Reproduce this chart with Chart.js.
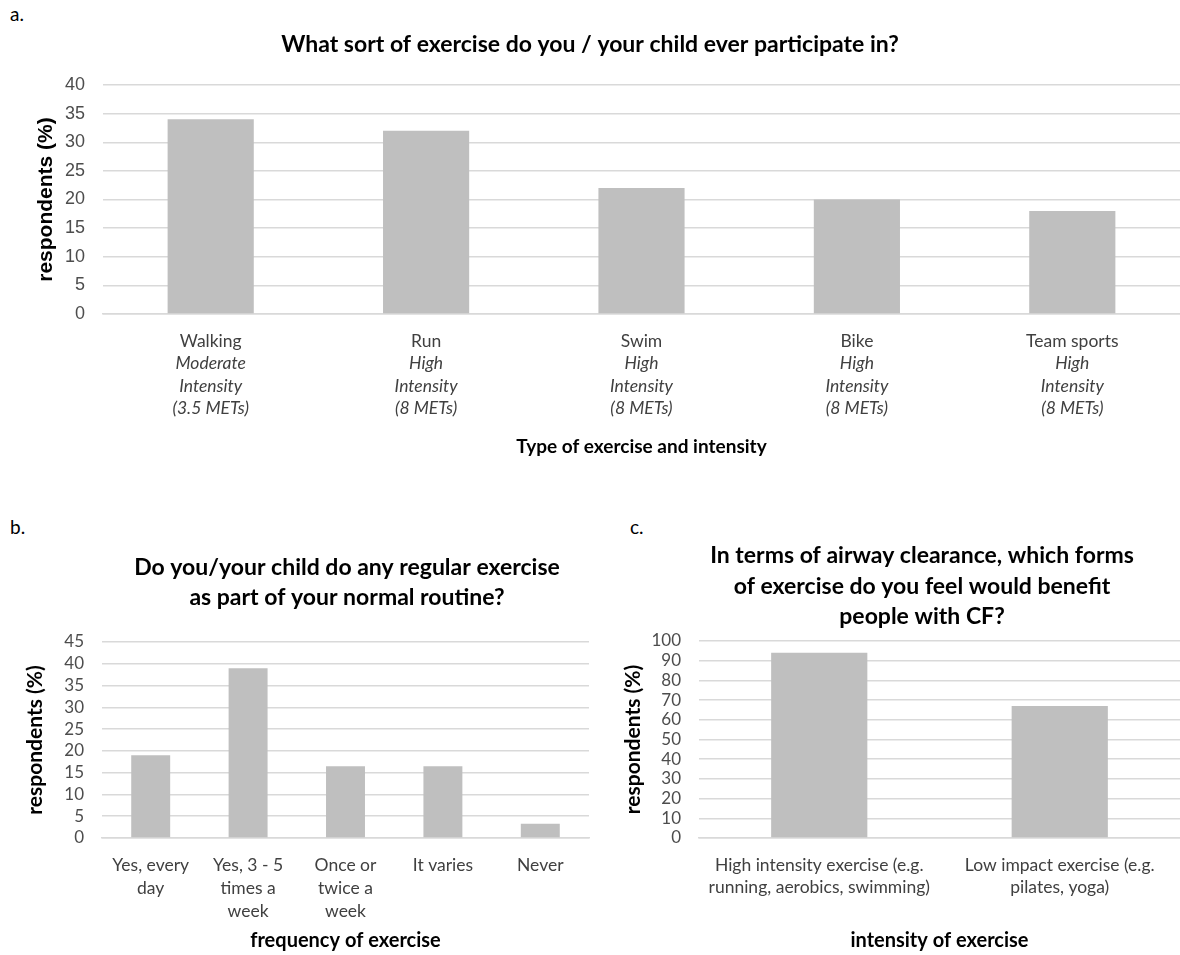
<!DOCTYPE html>
<html>
<head>
<meta charset="utf-8">
<script src="https://cdn.jsdelivr.net/npm/chart.js@4.4.1/dist/chart.umd.min.js"></script>
<style>
  body { margin: 0; background: #fff; width: 1180px; height: 955px; position: relative; overflow: hidden; }
  canvas { position: absolute; }
  .tag { position: absolute; font-family: Lato, sans-serif; font-size: 19px; color: #000; }
</style>
</head>
<body>
<div class="tag" style="left:10px;top:2px">a.</div>
<div class="tag" style="left:10px;top:515px">b.</div>
<div class="tag" style="left:630px;top:515px">c.</div>
<canvas id="chartA" width="1180" height="470" style="left:0;top:0"></canvas>
<canvas id="chartB" width="600" height="455" style="left:0;top:500px"></canvas>
<canvas id="chartC" width="580" height="455" style="left:600px;top:500px"></canvas>
<script>
// panel a
const aCategories = ['Walking', 'Run', 'Swim', 'Bike', 'Team sports'];
const aIntensity = [
  ['Moderate', 'Intensity', '(3.5 METs)'],
  ['High', 'Intensity', '(8 METs)'],
  ['High', 'Intensity', '(8 METs)'],
  ['High', 'Intensity', '(8 METs)'],
  ['High', 'Intensity', '(8 METs)']
];
const aValues = [34, 32, 22, 20, 18];
const aTicks = [0, 5, 10, 15, 20, 25, 30, 35, 40];

// panel b
const bCategories = [
  ['Yes, every', 'day'],
  ['Yes, 3 - 5', 'times a', 'week'],
  ['Once or', 'twice a', 'week'],
  ['It varies'],
  ['Never']
];
const bValues = [19, 39, 16.5, 16.5, 3.3];
const bTicks = [0, 5, 10, 15, 20, 25, 30, 35, 40, 45];

// panel c
const cCategories = [
  ['High intensity exercise (e.g.', 'running, aerobics, swimming)'],
  ['Low impact exercise (e.g.', 'pilates, yoga)']
];
const cValues = [94, 67];
const cTicks = [0, 10, 20, 30, 40, 50, 60, 70, 80, 90, 100];

const BAR = '#bfbfbf';
const GRID = '#d9d9d9';
const FONT = 'Lato, sans-serif';
const ARIAL = '"Liberation Sans", Arial, sans-serif';

// draws titles and category labels (mixed fonts per line) using the chart's scales
const panelText = {
  id: 'panelText',
  afterDraw(chart, args, o) {
    const ctx = chart.ctx;
    const x = chart.scales.x;
    const area = chart.chartArea;
    ctx.save();
    ctx.textAlign = 'center';
    ctx.textBaseline = 'middle';
    // chart title
    ctx.fillStyle = '#000';
    ctx.font = 'bold ' + o.titleSize + 'px ' + FONT;
    o.title.forEach((t, i) => ctx.fillText(t, o.titleX, o.titleY + i * o.titleLH));
    // category labels
    ctx.fillStyle = '#404040';
    o.labels.forEach((lines, i) => {
      const px = x.getPixelForValue(i);
      lines.forEach((ln, k) => {
        ctx.font = (ln.italic ? 'italic ' : '') + o.labelSize + 'px ' + FONT;
        ctx.fillText(ln.text, px, o.labelY + k * o.labelLH);
      });
    });
    // x axis title
    ctx.fillStyle = '#000';
    ctx.font = 'bold ' + o.axisSize + 'px ' + FONT;
    ctx.fillText(o.xTitle, (area.left + area.right) / 2, o.xTitleY);
    // y axis title
    ctx.font = o.yTitleFont;
    ctx.translate(o.yTitleX, (area.top + area.bottom) / 2);
    ctx.rotate(-Math.PI / 2);
    ctx.fillText('respondents (%)', 0, 0);
    ctx.restore();
  }
};

function makeChart(id, values, ticks, geom, text) {
  return new Chart(document.getElementById(id), {
    type: 'bar',
    data: {
      labels: values.map((v, i) => i),
      datasets: [{
        data: values,
        backgroundColor: BAR,
        borderWidth: 0,
        categoryPercentage: 1,
        barPercentage: 0.4
      }]
    },
    plugins: [panelText],
    options: {
      responsive: false,
      animation: false,
      layout: { padding: { top: geom.top, bottom: geom.bottom, left: 0, right: geom.right } },
      plugins: {
        legend: { display: false },
        tooltip: { enabled: false },
        panelText: text
      },
      scales: {
        x: {
          ticks: { display: false },
          grid: { display: false },
          border: { display: true, color: GRID, width: 1.5 },
          afterFit: s => { s.height = 0; }
        },
        y: {
          min: ticks[0],
          max: ticks[ticks.length - 1],
          afterBuildTicks: s => { s.ticks = ticks.map(v => ({ value: v })); },
          ticks: {
            autoSkip: false,
            padding: 18,
            color: '#4d4d4d',
            font: { family: geom.tickFont, size: geom.tickSize }
          },
          grid: { color: GRID, lineWidth: 1.5, drawTicks: false },
          border: { display: false },
          afterFit: s => { s.width = geom.yWidth; }
        }
      }
    }
  });
}

const aLabels = aCategories.map((c, i) =>
  [{ text: c }].concat(aIntensity[i].map(t => ({ text: t, italic: true }))));
const bLabels = bCategories.map(ls => ls.map(t => ({ text: t })));
const cLabels = cCategories.map(ls => ls.map(t => ({ text: t })));

makeChart('chartA', aValues, aTicks,
  { top: 85, bottom: 156, right: 0, yWidth: 103, tickFont: ARIAL, tickSize: 18 },
  {
    title: ['What sort of exercise do you / your child ever participate in?'],
    titleX: 590, titleY: 45, titleLH: 30, titleSize: 23,
    labels: aLabels, labelY: 341, labelLH: 22.5, labelSize: 17.5,
    xTitle: 'Type of exercise and intensity', xTitleY: 447, axisSize: 19,
    yTitleX: 46, yTitleFont: 'bold 21px ' + ARIAL
  });

makeChart('chartB', bValues, bTicks,
  { top: 142, bottom: 117, right: 11, yWidth: 102, tickFont: FONT, tickSize: 17 },
  {
    title: ['Do you/your child do any regular exercise', 'as part of your normal routine?'],
    titleX: 347, titleY: 68, titleLH: 30, titleSize: 23,
    labels: bLabels, labelY: 365, labelLH: 23, labelSize: 17.5,
    xTitle: 'frequency of exercise', xTitleY: 441, axisSize: 20,
    yTitleX: 35, yTitleFont: 'bold 21px ' + FONT
  });

makeChart('chartC', cValues, cTicks,
  { top: 141, bottom: 117, right: 0, yWidth: 99, tickFont: FONT, tickSize: 17 },
  {
    title: ['In terms of airway clearance, which forms', 'of exercise do you feel would benefit', 'people with CF?'],
    titleX: 322, titleY: 56, titleLH: 30.5, titleSize: 23,
    labels: cLabels, labelY: 365, labelLH: 22, labelSize: 17.5,
    xTitle: 'intensity of exercise', xTitleY: 441, axisSize: 20,
    yTitleX: 33, yTitleFont: 'bold 21px ' + FONT
  });
</script>
</body>
</html>
